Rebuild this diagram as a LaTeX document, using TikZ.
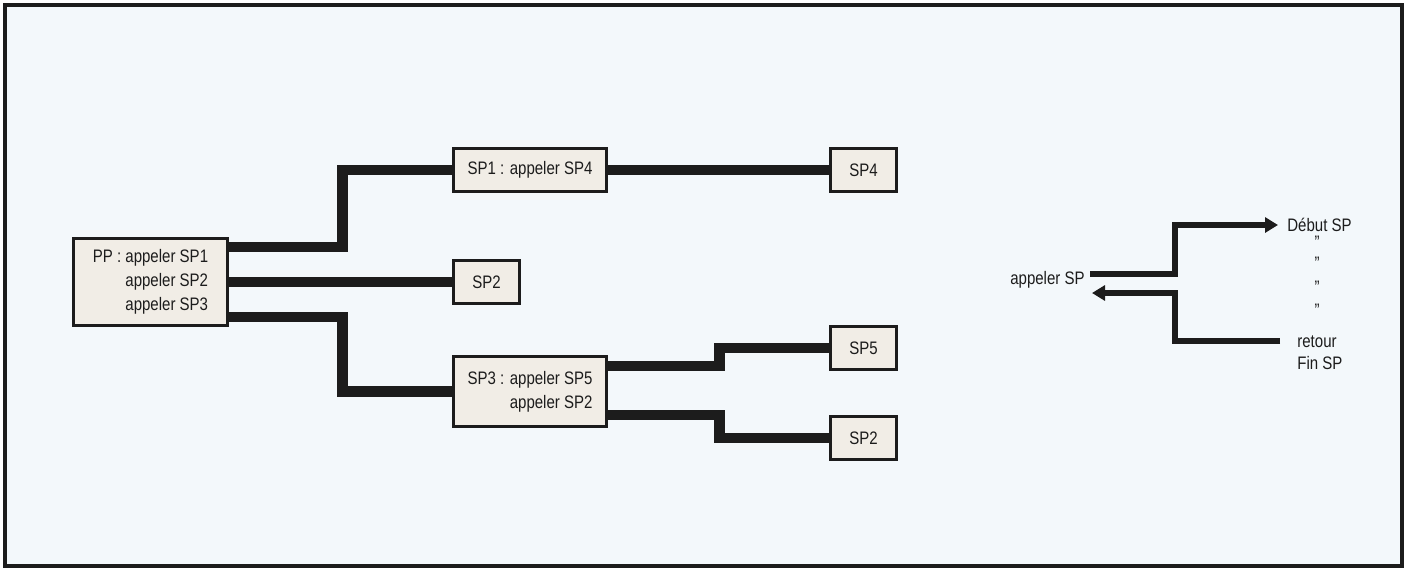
\documentclass[tikz,border=0pt]{standalone}
\usepackage{fontspec}
\setmainfont[FakeStretch=0.83]{Liberation Sans}
\usetikzlibrary{arrows.meta, positioning}

\definecolor{paper}{HTML}{F3F8FB}
\definecolor{boxfill}{HTML}{F1EDE6}
\definecolor{ink}{HTML}{1C1C1C}

\begin{document}
\begin{tikzpicture}[
        prog/.style={draw=ink, line width=1.6pt, fill=boxfill, align=right, inner sep=2pt, minimum height=0.86cm, font=\fontsize{10.3}{13.5}\selectfont, text=ink},
        callline/.style={draw=ink, line width=6.2pt},
        flow/.style={draw=ink, line width=3pt, -{Triangle[length=7.4pt, width=8.5pt]}},
        lbl/.style={font=\fontsize{10.3}{12.5}\selectfont, text=ink, inner sep=0pt, align=left}
    ]
        \useasboundingbox (0,0) rectangle (28.14,11.36);
        \draw[line width=0.08cm, draw=ink, fill=paper] (0.1,0.04) rectangle (28.04,11.26);

        % --- main program and subprograms ---
        \node[prog, minimum width=3.08cm, minimum height=1.74cm] (pp) at (3.01,5.72) {PP : appeler SP1\\appeler SP2\\appeler SP3};
        \node[prog, minimum width=3.06cm] (sp1) at (10.6,7.96) {SP1 : appeler SP4};
        \node[prog, minimum width=1.32cm] (sp4) at (17.27,7.96) {SP4};
        \node[prog, minimum width=1.32cm] (sp2a) at (9.73,5.72) {SP2};
        \node[prog, minimum width=3.06cm, minimum height=1.40cm] (sp3) at (10.6,3.53) {SP3 : appeler SP5\\appeler SP2};
        \node[prog, minimum width=1.32cm] (sp5) at (17.27,4.40) {SP5};
        \node[prog, minimum width=1.32cm] (sp2b) at (17.27,2.60) {SP2};

        % --- calls ---
        \draw[callline] ([yshift=0.7cm]pp.east) -- ++(2.28,0) |- (sp1.west);
        \draw[callline] (pp.east) -- (sp2a.west);
        \draw[callline] ([yshift=-0.7cm]pp.east) -- ++(2.28,0) |- (sp3.west);
        \draw[callline] (sp1.east) -- (sp4.west);
        \draw[callline] ([yshift=0.51cm]sp3.east) -- ++(2.24,0) |- (sp5.west);
        \draw[callline] ([yshift=-0.47cm]sp3.east) -- ++(2.24,0) |- (sp2b.west);

        % --- legend: call and return ---
        \node[lbl, anchor=east] (callsp) at (21.7,5.76) {appeler SP};
        \node[lbl, anchor=west] (debut) at (25.74,6.86) {Début SP};
        \foreach \y [count=\i] in {6.52,6.10,5.62,5.16}
            \node[lbl] (ditto\i) at (26.34,\y) {''};
        \node[lbl, anchor=west] (retour) at (25.94,4.30) {retour\\Fin SP};

        \draw[flow] ([shift={(0.1,0.12)}]callsp.east) -- ++(1.7,0) |- ([xshift=-0.18cm]debut.west);
        \draw[flow] ([shift={(-0.34,0.24)}]retour.west) -- ++(-2.1,0) |- ([shift={(0.14,-0.26)}]callsp.east);

    \end{tikzpicture}
\end{document}
